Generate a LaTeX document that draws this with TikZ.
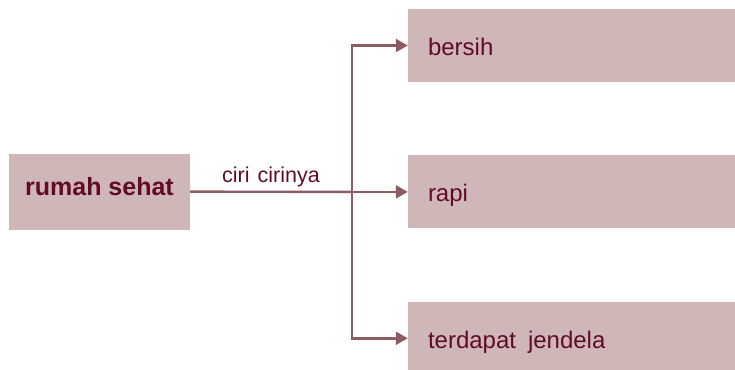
\documentclass[tikz,border=0pt]{standalone}
\usepackage{fontspec}
\setmainfont{Liberation Sans}
\usetikzlibrary{arrows.meta, positioning}
\definecolor{rsfill}{RGB}{208,183,183}
\definecolor{rsline}{RGB}{142,91,98}
\definecolor{rstext}{RGB}{98,12,36}

\begin{document}
\begin{tikzpicture}[x=1pt, y=-1pt, node distance=73pt,
  mainbox/.style={rectangle, fill=rsfill, minimum width=181pt, minimum height=76pt, text height=18pt, text depth=10pt, align=center, text=rstext, font=\fontsize{25}{30}\selectfont\bfseries},
  itembox/.style={rectangle, fill=rsfill, minimum height=73pt, text width=287pt, inner xsep=20pt, text height=24pt, text depth=4pt, align=left, text=rstext, font=\fontsize{24}{28}\selectfont},
  conn/.style={line width=2.4pt, draw=rsline},
  arr/.style={conn, -{Triangle[length=12pt, width=13pt]}}
]
\useasboundingbox (0,0) rectangle (735,369);
\node[mainbox] (rumah) at (99.5,191.5) {rumah sehat};
% Ciri-ciri
\node[itembox] (bersih) at (571.5,45.5) {bersih};
\node[itembox, below=of bersih] (rapi) {rapi};
\node[itembox, below=of rapi] (jendela) {terdapat\hspace{4pt} jendela};
\coordinate[left=56pt of rapi.west] (split);
\draw[conn] (rumah) -- node[above=2pt, inner sep=2pt, text=rstext, font=\fontsize{21.5}{26}\selectfont]{ciri\hspace{2pt} cirinya} (split);
\draw[arr] (split) -- (rapi);
\draw[arr] (split) |- (bersih);
\draw[arr] (split) |- (jendela);
\end{tikzpicture}
\end{document}
